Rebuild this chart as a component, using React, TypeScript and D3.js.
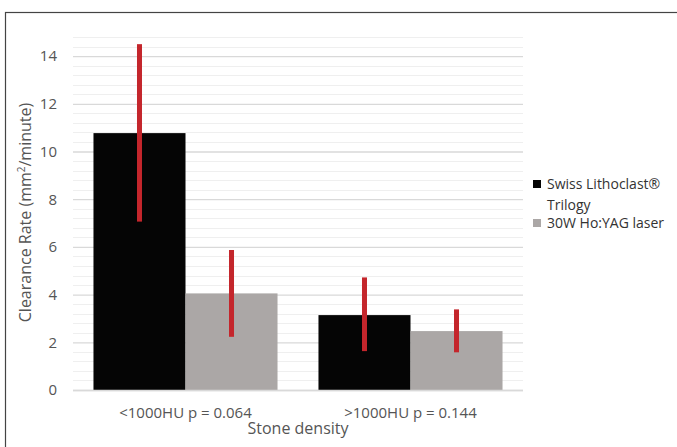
import { useRef, useEffect } from "react";
import * as d3 from "d3";

const categories = ["<1000HU p = 0.064", ">1000HU p = 0.144"];
const seriesNames = ["Swiss Lithoclast® Trilogy", "30W Ho:YAG laser"];
const lithoclastValues = [10.77, 3.14];
const lithoclastLow = [7.06, 1.63];
const lithoclastHigh = [14.5, 4.72];
const laserValues = [4.05, 2.47];
const laserLow = [2.23, 1.58];
const laserHigh = [5.87, 3.38];
const yTicks = [0, 2, 4, 6, 8, 10, 12, 14];

const colors = ["#050505", "#aba7a6"];
const errColor = "#c4262c";
const font = "'Open Sans', 'DejaVu Sans', sans-serif";

export default function App() {
  const d3Container = useRef<SVGSVGElement | null>(null);

  const width = 677,
    height = 447;
  const margin = { top: 37, left: 73, right: 154, bottom: 57 };
  const innerW = width - margin.left - margin.right;
  const innerH = height - margin.top - margin.bottom;

  useEffect(() => {
    const svg = d3.select(d3Container.current);
    svg.selectAll("*").remove();

    // frame (cut off on right and bottom)
    svg
      .append("rect")
      .attr("x", 5.5)
      .attr("y", 12.5)
      .attr("width", 700)
      .attr("height", 460)
      .attr("fill", "none")
      .attr("stroke", "#444")
      .attr("stroke-width", 1.2);

    const g = svg
      .append("g")
      .attr("transform", `translate(${margin.left}, ${margin.top})`);

    const y = d3.scaleLinear().domain([0, 14.8]).range([innerH, 0]);
    const x0 = d3.scaleBand().domain(categories).range([0, innerW]).paddingInner(0.182).paddingOuter(0.091);
    const x1 = d3.scaleBand().domain(seriesNames).range([0, x0.bandwidth()]);

    // minor gridlines
    const minor = d3.range(0, 14.81, 0.4).filter((v) => Math.abs(v / 2 - Math.round(v / 2)) > 0.01);
    g.selectAll(".minor")
      .data(minor)
      .enter()
      .append("line")
      .attr("x1", 0)
      .attr("x2", innerW)
      .attr("y1", (d) => Math.round(y(d)) + 0.5)
      .attr("y2", (d) => Math.round(y(d)) + 0.5)
      .attr("stroke", "#efefef")
      .attr("stroke-width", 1);

    // major gridlines + y axis labels
    const yAxis = g
      .append("g")
      .call(d3.axisLeft(y).tickValues(yTicks).tickSize(-innerW).tickPadding(16).tickFormat(d3.format("d")));
    yAxis.select(".domain").remove();
    yAxis.selectAll("line").attr("stroke", "#d9d9d9").attr("stroke-width", 1.3);
    yAxis
      .selectAll("text")
      .attr("fill", "#555")
      .style("font-family", font)
      .style("font-size", "15px");

    // bars
    const series = [lithoclastValues, laserValues];
    const lows = [lithoclastLow, laserLow];
    const highs = [lithoclastHigh, laserHigh];

    seriesNames.forEach((name, si) => {
      g.selectAll(".bar" + si)
        .data(categories)
        .enter()
        .append("rect")
        .attr("x", (c) => x0(c)! + x1(name)!)
        .attr("y", (c, i) => y(series[si][i]))
        .attr("width", x1.bandwidth())
        .attr("height", (c, i) => innerH - y(series[si][i]))
        .attr("fill", colors[si]);
    });

    // error bars
    seriesNames.forEach((name, si) => {
      g.selectAll(".err" + si)
        .data(categories)
        .enter()
        .append("rect")
        .attr("x", (c) => x0(c)! + x1(name)! + x1.bandwidth() / 2 - 2.5)
        .attr("y", (c, i) => y(highs[si][i]))
        .attr("width", 5)
        .attr("height", (c, i) => y(lows[si][i]) - y(highs[si][i]))
        .attr("fill", errColor);
    });

    // x axis baseline
    g.append("line")
      .attr("x1", 0)
      .attr("x2", innerW)
      .attr("y1", innerH + 0.5)
      .attr("y2", innerH + 0.5)
      .attr("stroke", "#d9d9d9")
      .attr("stroke-width", 1.3);

    // category labels
    g.selectAll(".cat")
      .data(categories)
      .enter()
      .append("text")
      .attr("x", (c) => x0(c)! + x0.bandwidth() / 2)
      .attr("y", innerH + 28)
      .attr("text-anchor", "middle")
      .attr("fill", "#555")
      .style("font-family", font)
      .style("font-size", "15px")
      .text((c) => c);

    // x title
    g.append("text")
      .attr("x", innerW / 2)
      .attr("y", innerH + 44)
      .attr("text-anchor", "middle")
      .attr("fill", "#555")
      .style("font-family", font)
      .style("font-size", "16px")
      .text("Stone density");

    // y title
    const yt = svg
      .append("text")
      .attr("transform", `translate(31, ${(97 + 328) / 2}) rotate(-90)`)
      .attr("text-anchor", "middle")
      .attr("fill", "#555")
      .style("font-family", font)
      .style("font-size", "16px");
    yt.append("tspan").text("Clearance Rate (mm");
    yt.append("tspan").attr("dy", -6).style("font-size", "10px").text("2");
    yt.append("tspan").attr("dy", 6).text("/minute)");

    // legend
    const legend = svg.append("g").attr("transform", "translate(533, 0)");
    legend.append("rect").attr("x", 0).attr("y", 180).attr("width", 8).attr("height", 8).attr("fill", colors[0]);
    legend.append("rect").attr("x", 0).attr("y", 219).attr("width", 8).attr("height", 8).attr("fill", colors[1]);
    const legText = [
      { t: "Swiss Lithoclast®", yy: 189 },
      { t: "Trilogy", yy: 210 },
      { t: "30W Ho:YAG laser", yy: 228 },
    ];
    legend
      .selectAll(".lt")
      .data(legText)
      .enter()
      .append("text")
      .attr("x", 14)
      .attr("y", (d) => d.yy)
      .attr("fill", "#333")
      .style("font-family", font)
      .style("font-size", "14px")
      .text((d) => d.t);
  }, []);

  return (
    <svg
      ref={d3Container}
      width={width}
      height={height}
      style={{ position: "absolute", left: 0, top: 0, background: "#fff" }}
    />
  );
}
